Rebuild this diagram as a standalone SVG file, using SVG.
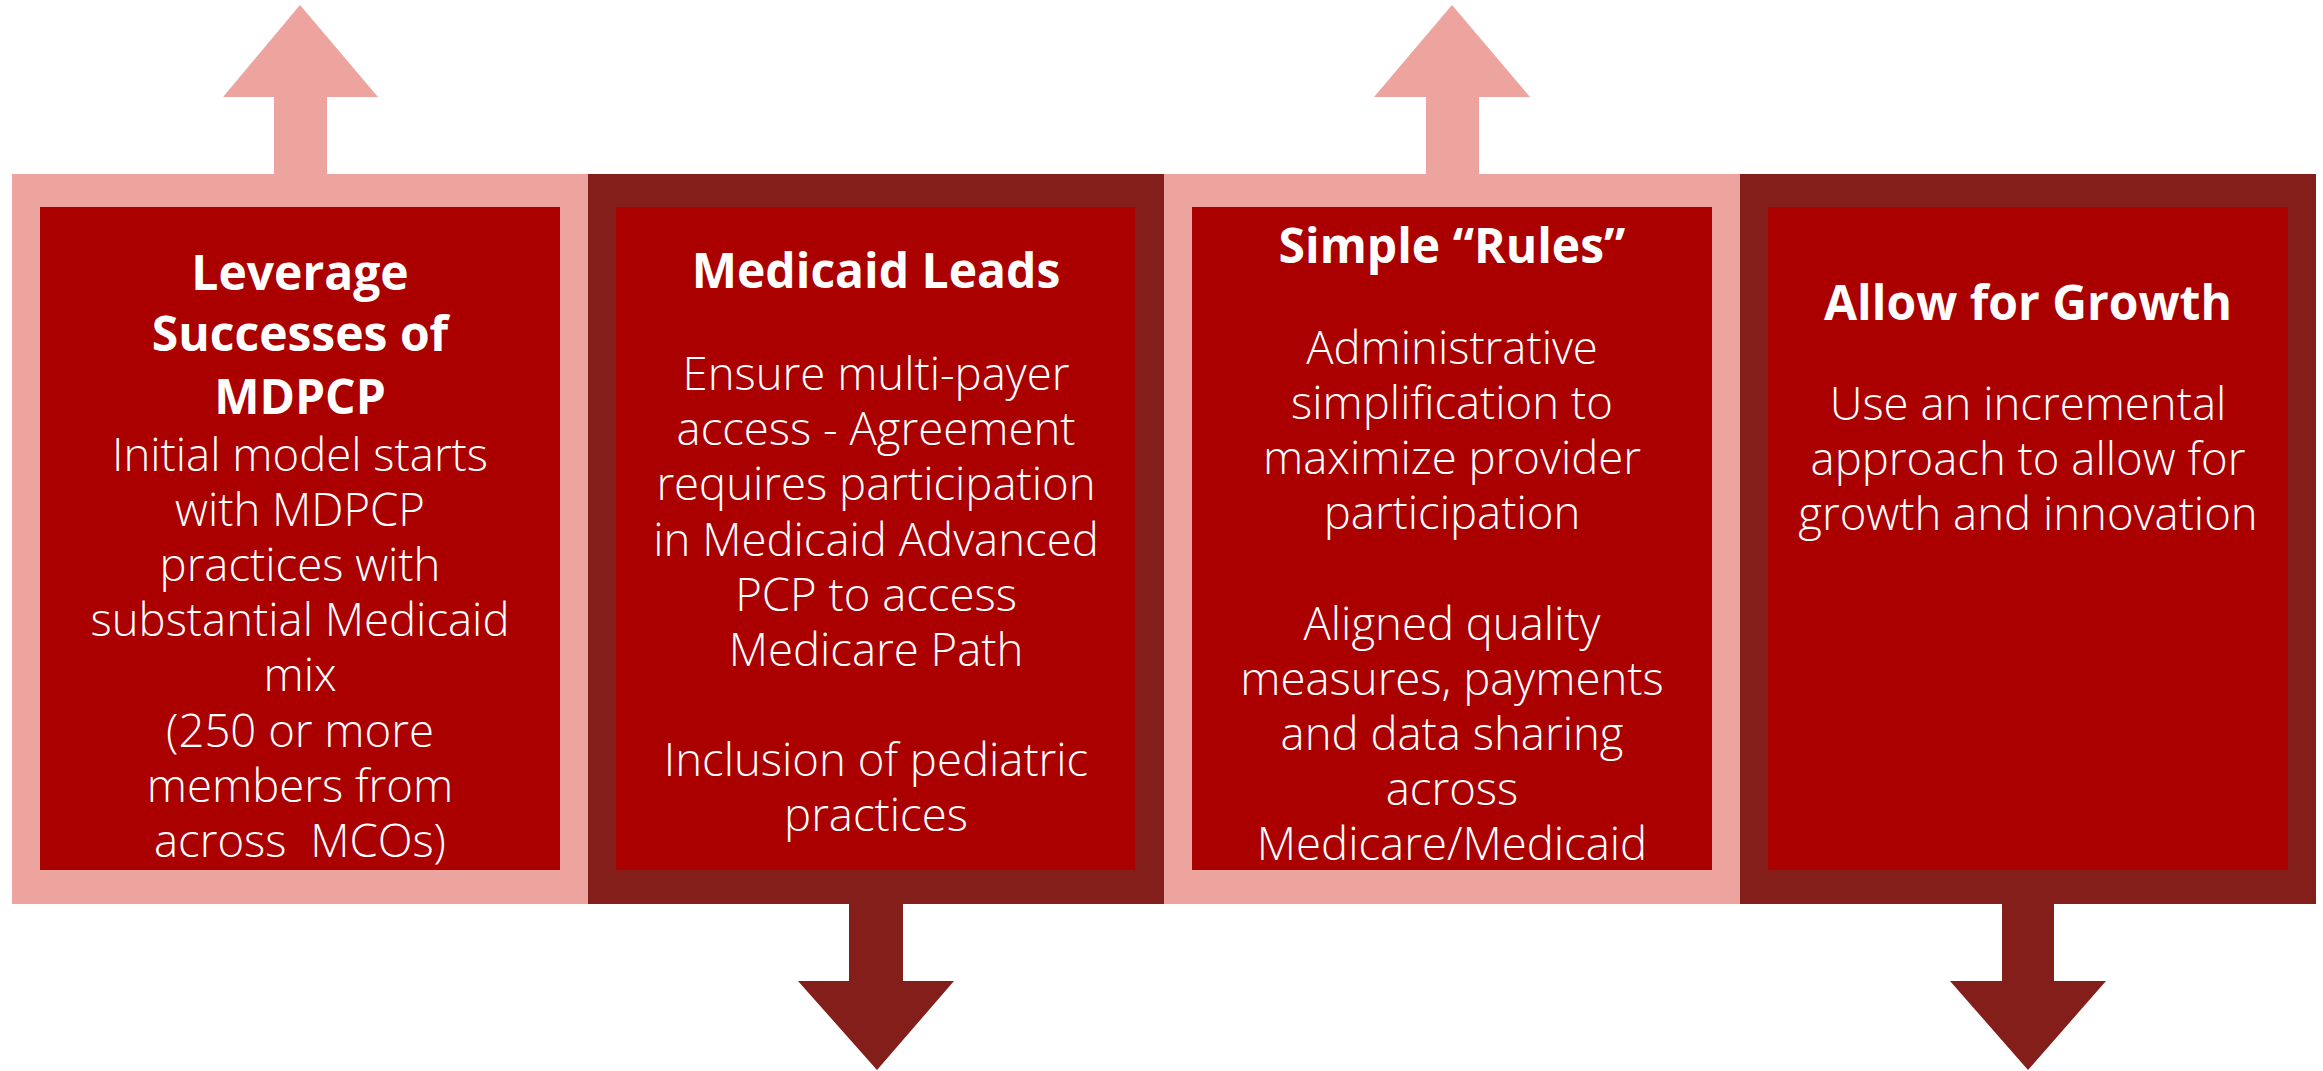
<svg xmlns="http://www.w3.org/2000/svg" width="2323" height="1071" viewBox="0 0 2323 1071">
<style>
.pink{fill:#EDA39E}
.dark{fill:#831E1A}
.red{fill:#AA0000}
.title{font-family:"Open Sans","Liberation Sans",sans-serif;font-weight:700;font-size:48px;fill:#FFFFFF;text-anchor:middle}
.body{font-family:"Open Sans","Liberation Sans",sans-serif;font-weight:300;font-size:45.5px;fill:#FFFFFF;text-anchor:middle;white-space:pre}
</style>
<rect width="2323" height="1071" fill="#FFFFFF"/>
<g id="connectors">
<polygon class="pink" points="274,176 274,97 223,97 300,5 378,97 327,97 327,176"/>
<polygon class="pink" points="1426,176 1426,97 1374,97 1452,5 1530,97 1479,97 1479,176"/>
<polygon class="dark" points="849,902 849,981 798,981 877,1070 954,981 903,981 903,902"/>
<polygon class="dark" points="2002,902 2002,981 1950,981 2028,1070 2106,981 2054,981 2054,902"/>
</g>
<g id="node1">
<rect class="pink" x="12" y="174" width="576" height="730"/>
<rect class="red" x="40" y="207" width="520" height="663"/>
<text class="title" x="300" y="290">Leverage</text>
<text class="title" x="300" y="351">Successes of</text>
<text class="title" x="300" y="414">MDPCP</text>
<text class="body" x="300" y="471">Initial model starts</text>
<text class="body" x="300" y="526">with MDPCP</text>
<text class="body" x="300" y="581">practices with</text>
<text class="body" x="300" y="636">substantial Medicaid</text>
<text class="body" x="300" y="691">mix</text>
<text class="body" x="300" y="747">(250 or more</text>
<text class="body" x="300" y="802">members from</text>
<text class="body" x="300" y="857">across  MCOs)</text>
</g>
<g id="node2">
<rect class="dark" x="588" y="174" width="576" height="730"/>
<rect class="red" x="616" y="207" width="519" height="663"/>
<text class="title" x="876" y="288">Medicaid Leads</text>
<text class="body" x="876" y="390">Ensure multi-payer</text>
<text class="body" x="876" y="445">access - Agreement</text>
<text class="body" x="876" y="500">requires participation</text>
<text class="body" x="876" y="556">in Medicaid Advanced</text>
<text class="body" x="876" y="611">PCP to access</text>
<text class="body" x="876" y="666">Medicare Path</text>
<text class="body" x="876" y="776">Inclusion of pediatric</text>
<text class="body" x="876" y="831">practices</text>
</g>
<g id="node3">
<rect class="pink" x="1164" y="174" width="576" height="730"/>
<rect class="red" x="1192" y="207" width="520" height="663"/>
<text class="title" x="1452" y="263">Simple “Rules”</text>
<text class="body" x="1452" y="364">Administrative</text>
<text class="body" x="1452" y="419">simplification to</text>
<text class="body" x="1452" y="474">maximize provider</text>
<text class="body" x="1452" y="529">participation</text>
<text class="body" x="1452" y="640">Aligned quality</text>
<text class="body" x="1452" y="695">measures, payments</text>
<text class="body" x="1452" y="750">and data sharing</text>
<text class="body" x="1452" y="805">across</text>
<text class="body" x="1452" y="860">Medicare/Medicaid</text>
</g>
<g id="node4">
<rect class="dark" x="1740" y="174" width="576" height="730"/>
<rect class="red" x="1768" y="207" width="520" height="663"/>
<text class="title" x="2028" y="320">Allow for Growth</text>
<text class="body" x="2028" y="420">Use an incremental</text>
<text class="body" x="2028" y="475">approach to allow for</text>
<text class="body" x="2028" y="530">growth and innovation</text>
</g>
</svg>
